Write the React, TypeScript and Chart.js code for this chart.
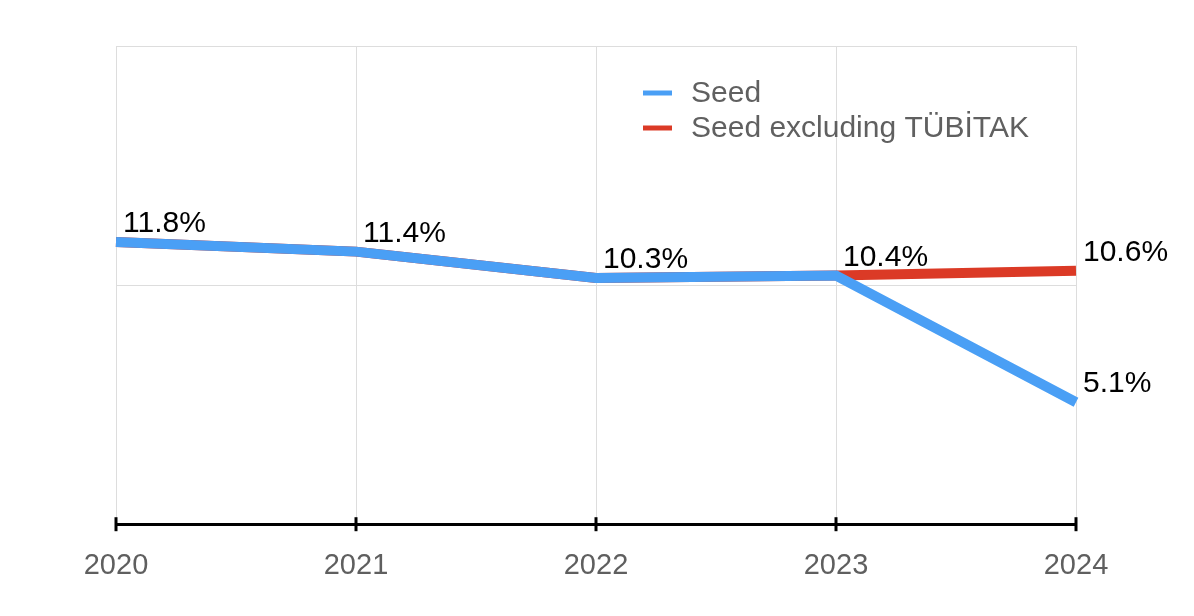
import React, { useEffect, useRef } from "react";
import { Chart, registerables } from "chart.js";

Chart.register(...registerables);

const years = ["2020", "2021", "2022", "2023", "2024"];
const seedValues = [11.8, 11.4, 10.3, 10.4, 5.1];
const seedExTubitakValues = [11.8, 11.4, 10.3, 10.4, 10.6];
const seriesNames = ["Seed", "Seed excluding TÜBİTAK"];
const seriesColors = ["#4a9ff5", "#db3a26"];
const yMin = 0;
const yMax = 20;
const yStep = 10;

const FONT = "'Liberation Sans', Arial, Helvetica, sans-serif";

const valueLabelPlugin = {
  id: "valueLabels",
  afterDatasetsDraw(chart: any) {
    const ctx = chart.ctx;
    ctx.save();
    ctx.font = `30px ${FONT}`;
    ctx.fillStyle = "#000000";
    ctx.textAlign = "left";
    ctx.textBaseline = "alphabetic";
    const base = chart.data.datasets[0].data as number[];
    chart.data.datasets.forEach((ds: any, di: number) => {
      const meta = chart.getDatasetMeta(di);
      meta.data.forEach((pt: any, i: number) => {
        const v = ds.data[i] as number;
        if (di > 0 && v === base[i]) return;
        ctx.fillText(`${v.toFixed(1)}%`, pt.x + 7, pt.y - 10);
      });
    });
    ctx.restore();
  },
};

const axisTicksPlugin = {
  id: "axisTicks",
  afterDraw(chart: any) {
    const ctx = chart.ctx;
    const xs = chart.scales.x;
    const y = chart.chartArea.bottom;
    ctx.save();
    ctx.strokeStyle = "#000000";
    ctx.lineWidth = 3;
    xs.ticks.forEach((_t: any, i: number) => {
      const px = xs.getPixelForTick(i);
      ctx.beginPath();
      ctx.moveTo(px, y - 7);
      ctx.lineTo(px, y + 7);
      ctx.stroke();
    });
    ctx.restore();
  },
};

const innerLegendPlugin = {
  id: "innerLegend",
  afterDraw(chart: any) {
    const ctx = chart.ctx;
    ctx.save();
    ctx.font = `30px ${FONT}`;
    ctx.textAlign = "left";
    ctx.textBaseline = "middle";
    chart.data.datasets.forEach((ds: any, i: number) => {
      const y = 93 + i * 35;
      ctx.strokeStyle = ds.borderColor;
      ctx.lineWidth = 5;
      ctx.beginPath();
      ctx.moveTo(643, y);
      ctx.lineTo(672, y);
      ctx.stroke();
      ctx.fillStyle = "#606060";
      ctx.fillText(ds.label, 691, y + 1);
    });
    ctx.restore();
  },
};

export default function App() {
  const canvasRef = useRef<HTMLCanvasElement | null>(null);

  useEffect(() => {
    if (!canvasRef.current) return;
    const chart = new Chart(canvasRef.current, {
      type: "line",
      data: {
        labels: years,
        datasets: [
          {
            label: seriesNames[0],
            data: seedValues,
            borderColor: seriesColors[0],
            backgroundColor: seriesColors[0],
            borderWidth: 10,
            pointRadius: 0,
            tension: 0,
          },
          {
            label: seriesNames[1],
            data: seedExTubitakValues,
            borderColor: seriesColors[1],
            backgroundColor: seriesColors[1],
            borderWidth: 10,
            pointRadius: 0,
            tension: 0,
          },
        ],
      },
      options: {
        animation: false,
        responsive: true,
        maintainAspectRatio: false,
        layout: { padding: { left: 116, right: 118, top: 46, bottom: 9 } },
        plugins: {
          legend: { display: false },
          tooltip: { enabled: false },
        },
        scales: {
          x: {
            grid: { color: "#dddddd", lineWidth: 1, drawTicks: false },
            border: { display: true, color: "#000000", width: 3 },
            ticks: {
              color: "#5f5f5f",
              font: { family: FONT, size: 29 },
              padding: 24,
              maxRotation: 0,
            },
          },
          y: {
            min: yMin,
            max: yMax,
            ticks: { display: false, stepSize: yStep },
            grid: { color: "#dddddd", lineWidth: 1, drawTicks: false },
            border: { display: false },
          },
        },
      },
      plugins: [valueLabelPlugin, axisTicksPlugin, innerLegendPlugin],
    });
    return () => chart.destroy();
  }, []);

  return (
    <div style={{ position: "fixed", left: 0, top: 0, width: 1194, height: 616, background: "#ffffff" }}>
      <canvas ref={canvasRef} />
    </div>
  );
}
